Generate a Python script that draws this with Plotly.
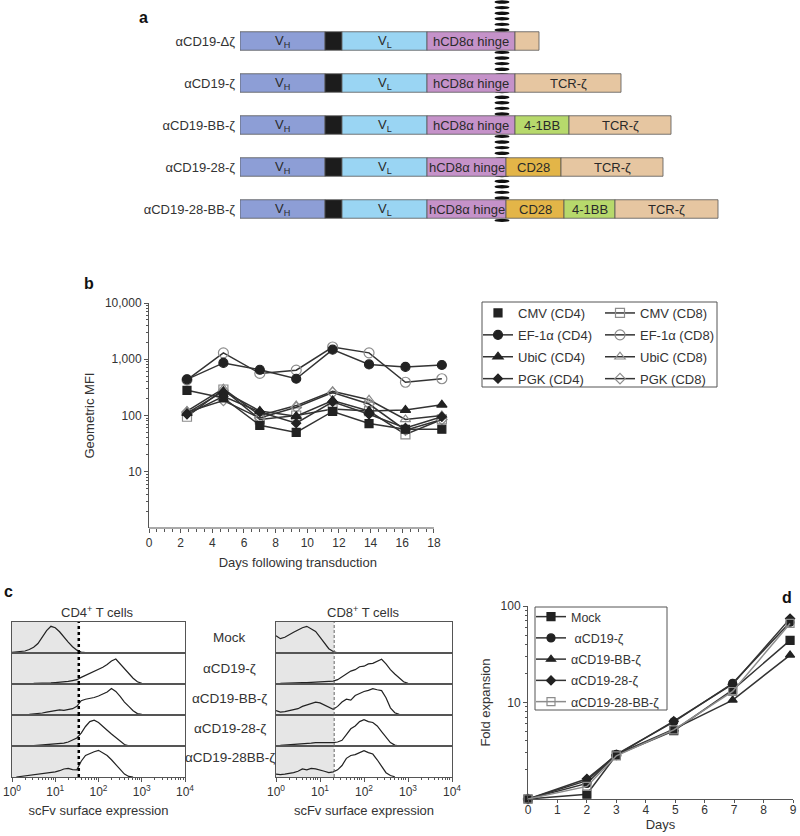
import numpy as np
import plotly.graph_objects as go

W, H = 800, 836
FONT = "Liberation Sans, Arial, Helvetica, sans-serif"
INK = "#222222"
GREY = "#8c8c8c"
AXIS = "#555555"
TXT = "#333333"

# ---------------- panel a: CAR constructs ----------------
CONSTRUCTS = ["αCD19-Δζ", "αCD19-ζ", "αCD19-BB-ζ", "αCD19-28-ζ", "αCD19-28-BB-ζ"]
DOMAINS = ["VH", "linker", "VL", "hinge", "CD28", "4-1BB", "TCR-ζ"]
VH_LEN = [85, 85, 85, 85, 85]
LINKER_LEN = [17, 17, 17, 17, 17]
VL_LEN = [85, 85, 85, 85, 85]
HINGE_LEN = [88, 88, 88, 79, 79]
CD28_LEN = [0, 0, 0, 55, 58]
BB_LEN = [0, 0, 54, 0, 51]
TCR_LEN = [24, 106, 102, 102, 103]
DOMAIN_LABELS = ["V<sub>H</sub>", "", "V<sub>L</sub>", "hCD8α hinge", "CD28", "4-1BB", "TCR-ζ"]
DOMAIN_COLORS = ["#8d9ed6", "#1c1c1c", "#9ad5f3", "#c592c9", "#e3b548", "#b7d96c", "#e6c6a1"]
MEMBRANE_AT = 262

# ---------------- panel b: promoter MFI ----------------
B_DAYS = [2.4, 4.7, 7.0, 9.3, 11.6, 13.9, 16.2, 18.5]
CMV_CD4 = [280, 205, 67, 50, 118, 72, 57, 57]
CMV_CD8 = [95, 290, 85, 100, 130, 120, 46, 85]
EF1A_CD4 = [440, 860, 650, 450, 1480, 810, 730, 790]
EF1A_CD8 = [430, 1300, 560, 640, 1650, 1300, 390, 450]
UBIC_CD4 = [110, 270, 120, 97, 185, 120, 125, 155]
UBIC_CD8 = [120, 300, 100, 150, 270, 190, 85, 100]
PGK_CD4 = [105, 220, 115, 73, 175, 105, 60, 95]
PGK_CD8 = [115, 185, 90, 140, 255, 160, 55, 85]

# ---------------- panel c: scFv histograms ----------------
LOG_GRID = [0.0, 0.1, 0.2, 0.3, 0.4, 0.5, 0.6, 0.7, 0.8, 0.9, 1.0, 1.1, 1.2,
            1.3, 1.4, 1.5, 1.6, 1.7, 1.8, 1.9, 2.0, 2.1, 2.2, 2.3, 2.4, 2.5,
            2.6, 2.7, 2.8, 2.9, 3.0, 3.1, 3.2]
HIST_ROWS = ["Mock", "αCD19-ζ", "αCD19-BB-ζ", "αCD19-28-ζ", "αCD19-28BB-ζ"]
# (first grid index, relative counts)
CD4_HIST = [
    (0, [0.02, 0.03, 0.04, 0.07, 0.12, 0.2, 0.33, 0.55, 0.78, 0.93, 0.88, 0.74,
         0.55, 0.38, 0.22, 0.1, 0.03, 0.01, 0.0, 0.0]),
    (5, [0.02, 0.02, 0.03, 0.03, 0.04, 0.05, 0.06, 0.07, 0.09, 0.12, 0.15, 0.23,
         0.3, 0.36, 0.43, 0.5, 0.58, 0.68, 0.8, 0.87, 0.7, 0.52, 0.35, 0.2, 0.08,
         0.02, 0.0]),
    (4, [0.02, 0.03, 0.05, 0.07, 0.1, 0.12, 0.15, 0.18, 0.16, 0.2, 0.22, 0.3,
         0.5, 0.55, 0.57, 0.61, 0.66, 0.72, 0.8, 0.92, 0.82, 0.65, 0.45, 0.3,
         0.15, 0.05, 0.02]),
    (5, [0.01, 0.02, 0.03, 0.04, 0.05, 0.06, 0.08, 0.1, 0.14, 0.2, 0.28, 0.45,
         0.68, 0.85, 0.9, 0.82, 0.7, 0.55, 0.42, 0.3, 0.15, 0.05, 0.01, 0.0]),
    (1, [0.0, 0.02, 0.03, 0.05, 0.07, 0.08, 0.1, 0.13, 0.15, 0.18, 0.22, 0.28,
         0.3, 0.26, 0.25, 0.55, 0.75, 0.82, 0.88, 0.93, 0.85, 0.75, 0.6, 0.42,
         0.25, 0.1, 0.02, 0.0]),
]
CD8_HIST = [
    (0, [0.6, 0.5, 0.55, 0.65, 0.72, 0.8, 0.88, 0.93, 0.85, 0.75, 0.55, 0.35,
         0.15, 0.05, 0.01, 0.0, 0.0, 0.0]),
    (1, [0.02, 0.03, 0.03, 0.04, 0.04, 0.05, 0.05, 0.06, 0.05, 0.06, 0.08, 0.1,
         0.1, 0.15, 0.25, 0.35, 0.45, 0.5, 0.6, 0.62, 0.7, 0.72, 0.8, 0.86,
         0.7, 0.5, 0.35, 0.2, 0.08, 0.02]),
    (0, [0.15, 0.1, 0.12, 0.15, 0.18, 0.22, 0.3, 0.35, 0.4, 0.45, 0.42, 0.35,
         0.28, 0.2, 0.3, 0.45, 0.55, 0.52, 0.68, 0.75, 0.82, 0.86, 0.92, 0.88,
         0.85, 0.6, 0.25, 0.08, 0.02, 0.0]),
    (1, [0.02, 0.03, 0.03, 0.04, 0.05, 0.06, 0.08, 0.1, 0.12, 0.12, 0.1, 0.12,
         0.12, 0.14, 0.2, 0.4, 0.6, 0.7, 0.85, 0.92, 0.85, 0.82, 0.7, 0.5, 0.3,
         0.12, 0.03, 0.0]),
    (0, [0.1, 0.08, 0.1, 0.12, 0.15, 0.2, 0.28, 0.25, 0.3, 0.28, 0.25, 0.2,
         0.15, 0.18, 0.25, 0.4, 0.65, 0.75, 0.78, 0.85, 0.92, 0.85, 0.8, 0.6,
         0.35, 0.15, 0.05, 0.01]),
]
CD4_GATE = 35
CD8_GATE = 21

# ---------------- panel d: expansion ----------------
D_DAYS = [0, 2, 3, 4.95, 6.95, 8.9]
MOCK = [1, 1.12, 2.85, 5.1, 13.5, 44]
Z = [1, 1.45, 2.9, 6.3, 15.8, 68]
BB_Z = [1, 1.55, 2.9, 5.3, 10.6, 31]
Z28 = [1, 1.62, 2.85, 6.4, 15.5, 74]
Z28_BB = [1, 1.35, 2.8, 5.2, 13.0, 66]


def px(x):
    return x / W


def py(y):
    return 1 - y / H


def axis(**kw):
    base = dict(showline=True, linecolor=AXIS, linewidth=1, ticks="outside",
                tickcolor=AXIS, ticklen=4, tickfont=dict(size=12, color=TXT),
                showgrid=False, zeroline=False)
    base.update(kw)
    return base


def log_minor(top):
    return [m * 10 ** k for k in range(top) for m in range(2, 10)]


def label(text, x, y, size=13, color=TXT):
    return dict(text=text, x=px(x), y=py(y), xref="paper", yref="paper",
                xanchor="center", yanchor="middle", showarrow=False,
                font=dict(size=size, color=color))


def title(text, standoff):
    return dict(text=text, font=dict(size=13, color=TXT), standoff=standoff)


fig = go.Figure()
shapes = []
annotations = []

# ---- panel a ----
lengths = np.array([VH_LEN, LINKER_LEN, VL_LEN, HINGE_LEN, CD28_LEN, BB_LEN, TCR_LEN], float)
starts = np.vstack([np.zeros(len(CONSTRUCTS)), np.cumsum(lengths, axis=0)[:-1]])
for i, dom in enumerate(DOMAINS):
    keep = lengths[i] > 0
    ys = [c for c, k in zip(CONSTRUCTS, keep) if k]
    fig.add_trace(go.Bar(
        orientation="h", y=ys, x=lengths[i][keep], base=starts[i][keep],
        xaxis="x", yaxis="y", width=0.44, name=dom,
        marker=dict(color=DOMAIN_COLORS[i], line=dict(color="#555555", width=0.8)),
        showlegend=False, hoverinfo="skip",
    ))
    # domain names written in the middle of each box
    for c, b0, L in zip(ys, starts[i][keep], lengths[i][keep]):
        if DOMAIN_LABELS[i] and L > 40:
            annotations.append(dict(text=DOMAIN_LABELS[i], x=b0 + L / 2, y=c, xref="x",
                                    yref="y", showarrow=False, xanchor="center",
                                    yanchor="middle", font=dict(size=13, color="#2a2a2a")))
# transmembrane ladder
for k in range(40):
    yd = (230 - (2 + 5.6 * k)) / 210
    shapes.append(dict(type="circle", xref="x", yref="y domain",
                       x0=MEMBRANE_AT - 7.5, x1=MEMBRANE_AT + 7.5,
                       y0=yd - 1.7 / 210, y1=yd + 1.7 / 210,
                       fillcolor="#111111", line=dict(width=0), layer="below"))

# ---- panel b ----
b_series = [
    ("CMV (CD8)", CMV_CD8, "square-open", 9, GREY, "legend2"),
    ("EF-1α (CD8)", EF1A_CD8, "circle-open", 10, GREY, "legend2"),
    ("UbiC (CD8)", UBIC_CD8, "triangle-up-open", 9, GREY, "legend2"),
    ("PGK (CD8)", PGK_CD8, "diamond-open", 8, GREY, "legend2"),
    ("CMV (CD4)", CMV_CD4, "square", 8, INK, "legend"),
    ("EF-1α (CD4)", EF1A_CD4, "circle", 9, INK, "legend"),
    ("UbiC (CD4)", UBIC_CD4, "triangle-up", 9, INK, "legend"),
    ("PGK (CD4)", PGK_CD4, "diamond", 7, INK, "legend"),
]
for name, vals, sym, size, col, leg in b_series:
    marker_only = name == "CMV (CD4)"
    if marker_only:
        fig.add_trace(go.Scatter(x=B_DAYS, y=vals, xaxis="x2", yaxis="y2",
                                 mode="lines", line=dict(color="#333333", width=1.5),
                                 showlegend=False, cliponaxis=False, hoverinfo="skip"))
    fig.add_trace(go.Scatter(
        x=B_DAYS, y=vals, xaxis="x2", yaxis="y2", name=name,
        mode="markers" if marker_only else "lines+markers",
        line=dict(color="#333333", width=1.5),
        marker=dict(symbol=sym, size=size, color=col, line=dict(color=col, width=1.2)),
        legend=leg, legendgroup=name, cliponaxis=False,
    ))
# x axis line of panel b stops at day 18
shapes.append(dict(type="line", xref="x2", yref="y2 domain", x0=0, x1=18, y0=0, y1=0,
                   line=dict(color=AXIS, width=1)))

# ---- panel c ----
ROW_TOPS = [622, 653, 684, 715, 746]
ROW_BOTTOM = 777
COLS = [(12, 185, CD4_HIST, CD4_GATE, dict(color="black", width=2.5, dash="dot")),
        (276, 452, CD8_HIST, CD8_GATE, dict(color="#666666", width=1, dash="3px,2px"))]
layout_axes = {}
ax = 3
for ci, (x0, x1, hists, gate, gate_line) in enumerate(COLS):
    for r, (start, counts) in enumerate(hists):
        top = ROW_TOPS[r]
        bot = ROW_TOPS[r + 1] if r < 4 else ROW_BOTTOM
        xs = [10 ** v for v in LOG_GRID[start:start + len(counts)]]
        fig.add_trace(go.Scatter(x=xs, y=counts, xaxis=f"x{ax}", yaxis=f"y{ax}",
                                 mode="lines", line=dict(color=INK, width=1.2),
                                 showlegend=False, hoverinfo="skip"))
        last = r == 4
        layout_axes[f"xaxis{ax}"] = axis(
            domain=[px(x0), px(x1)], anchor=f"y{ax}", type="log", range=[0, 4],
            mirror=True, ticks="outside" if last else "", showticklabels=last,
            tickvals=[1, 10, 100, 1000, 10000],
            ticktext=["10<sup>0</sup>", "10<sup>1</sup>", "10<sup>2</sup>",
                      "10<sup>3</sup>", "10<sup>4</sup>"],
            minor=dict(tickvals=log_minor(4), ticks="outside" if last else "",
                       ticklen=2, tickcolor=AXIS),
            title=title("scFv surface expression" if last else "", 7),
        )
        layout_axes[f"yaxis{ax}"] = axis(
            domain=[py(bot), py(top)], anchor=f"x{ax}", range=[0, 1.08],
            mirror=True, ticks="", showticklabels=False,
        )
        shapes.append(dict(type="rect", xref=f"x{ax}", yref=f"y{ax} domain",
                           x0=1, x1=gate, y0=0, y1=1,
                           fillcolor="#e6e6e6", line=dict(width=0), layer="below"))
        shapes.append(dict(type="line", xref=f"x{ax}", yref=f"y{ax} domain",
                           x0=gate, x1=gate, y0=0, y1=1, line=gate_line))
        ax += 1

for r, lab in enumerate(HIST_ROWS):
    annotations.append(label(lab, 230, [637, 668, 698, 728, 757][r], size=13.5))
annotations.append(label("CD4<sup>+</sup> T cells", 97, 612))
annotations.append(label("CD8<sup>+</sup> T cells", 363, 612))

# ---- panel d ----
d_series = [
    ("Mock", MOCK, "square", 8, INK, "#333333"),
    (" αCD19-ζ", Z, "circle", 8, INK, "#333333"),
    ("αCD19-BB-ζ", BB_Z, "triangle-up", 8, INK, "#333333"),
    ("αCD19-28-ζ", Z28, "diamond", 7, INK, "#333333"),
    ("αCD19-28-BB-ζ", Z28_BB, "square-open", 8, GREY, GREY),
]
for name, vals, sym, size, col, lcol in d_series:
    fig.add_trace(go.Scatter(
        x=D_DAYS, y=vals, xaxis="x13", yaxis="y13", name=name, mode="lines+markers",
        line=dict(color=lcol, width=1.5),
        marker=dict(symbol=sym, size=size, color=col, line=dict(color=col, width=1.2)),
        legend="legend3", legendgroup=name, cliponaxis=False,
    ))

# legend frames
shapes.append(dict(type="rect", xref="paper", yref="paper", x0=px(482), x1=px(717),
                   y0=py(387), y1=py(302), line=dict(color=AXIS, width=1)))
shapes.append(dict(type="rect", xref="paper", yref="paper", x0=px(535), x1=px(667),
                   y0=py(710), y1=py(607), line=dict(color=AXIS, width=1)))

for letter, (lx, ly) in zip("abcd", [(143, 18), (89, 283), (8, 591), (787, 597)]):
    annotations.append(label(f"<b>{letter}</b>", lx, ly, size=16, color="#111111"))

leg = dict(bgcolor="rgba(0,0,0,0)", borderwidth=0, font=dict(size=13, color=TXT),
           tracegroupgap=2, itemwidth=30, xanchor="left", yanchor="top")

fig.update_layout(
    template="none", width=W, height=H, margin=dict(l=0, r=0, t=0, b=0),
    paper_bgcolor="white", plot_bgcolor="white", font=dict(family=FONT, color=TXT),
    barmode="overlay", showlegend=True,
    xaxis=dict(domain=[px(240), 1], range=[0, 560], visible=False, anchor="y"),
    yaxis=dict(domain=[py(230), py(20)], anchor="x", type="category",
               categoryorder="array", categoryarray=CONSTRUCTS, range=[4.5, -0.5],
               showline=False, showgrid=False, zeroline=False, ticks="",
               tickfont=dict(size=13, color=TXT), ticklabelstandoff=4),
    xaxis2=axis(domain=[px(149), px(446.6)], anchor="y2", range=[0, 18.8],
                showline=False, tickvals=list(range(0, 19, 2)),
                minor=dict(tickvals=[v / 2 for v in range(0, 37)], ticks="outside",
                           ticklen=2.5, tickcolor=AXIS),
                title=title("Days following transduction", 8)),
    yaxis2=axis(domain=[py(528), py(303)], anchor="x2", type="log", range=[0, 4],
                tickvals=[10, 100, 1000, 10000], ticktext=["10", "100", "1,000", "10,000"],
                minor=dict(tickvals=log_minor(4), ticks="outside", ticklen=2.5, tickcolor=AXIS),
                title=title("Geometric MFI", 7)),
    xaxis13=axis(domain=[px(528), px(793)], anchor="y13", range=[0, 9], dtick=1,
                 ticklen=3, ticklabelstandoff=-3, title=title("Days", 0)),
    yaxis13=axis(domain=[py(799), py(606)], anchor="x13", type="log", range=[0, 2],
                 tickvals=[10, 100], ticktext=["10", "100"],
                 minor=dict(tickvals=log_minor(2), ticks="outside", ticklen=2.5, tickcolor=AXIS),
                 title=title("Fold expansion", 7)),
    legend=dict(leg, x=px(478), y=py(298)),
    legend2=dict(leg, x=px(600), y=py(298)),
    legend3=dict(leg, x=px(531), y=py(602), font=dict(size=12.5, color=TXT)),
    shapes=shapes, annotations=annotations,
)
fig.update_layout(**layout_axes)

fig.write_html("out.html", config={"displayModeBar": False},
               post_script="document.body.style.margin='0';")
